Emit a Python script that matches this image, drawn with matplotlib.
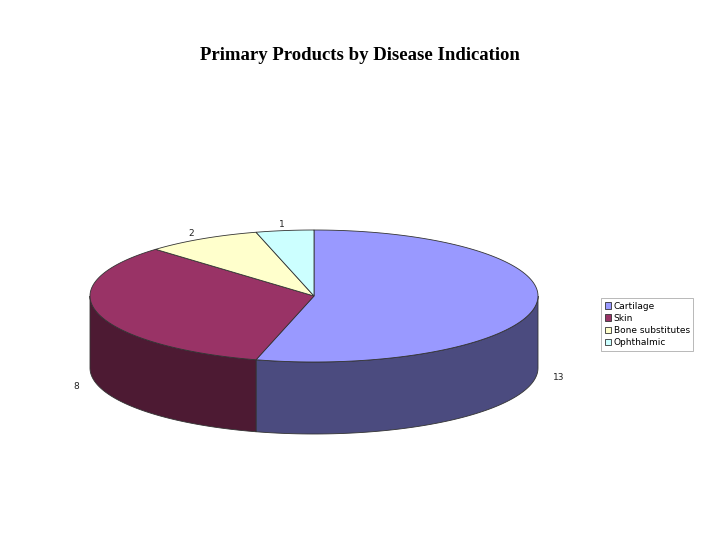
import numpy as np
import matplotlib
matplotlib.use("Agg")
import matplotlib.pyplot as plt
from matplotlib.patches import Polygon, Patch

categories = ["Cartilage", "Skin", "Bone substitutes", "Ophthalmic"]
values = [13, 8, 2, 1]
top_colors = ["#9999FF", "#993366", "#FFFFCC", "#CCFFFF"]
side_colors = ["#4B4B7F", "#4D1A33", "#7F7F66", "#667F7F"]

fig = plt.figure(figsize=(7.2, 5.4), dpi=100)
ax = fig.add_axes([0, 0, 1, 1])
ax.set_xlim(0, 720)
ax.set_ylim(540, 0)
ax.axis("off")

cx, cy, rx, ry, depth = 314, 296, 224, 66, 72
total = sum(values)

def pt(t, dy=0):
    r = np.radians(t)
    return cx + rx*np.cos(r), cy - ry*np.sin(r) + dy

# slice angle ranges (clockwise from 12 o'clock)
ranges = []
start = 90.0
for v in values:
    end = start - 360.0*v/total
    ranges.append((start, end))
    start = end

# side walls (front half: t in [-180, 0])
for (s, e), sc in zip(ranges, side_colors):
    lo, hi = max(e, -180), min(s, 0)
    # also handle angles expressed beyond -180
    if hi > lo:
        ts = np.linspace(hi, lo, 80)
        topp = [pt(t) for t in ts]
        botp = [pt(t, depth) for t in ts[::-1]]
        ax.add_patch(Polygon(topp + botp, closed=True, fc=sc, ec="#333333", lw=0.6))

# top surfaces
for (s, e), tc in zip(ranges, top_colors):
    ts = np.linspace(s, e, 120)
    pts = [(cx, cy)] + [pt(t) for t in ts]
    ax.add_patch(Polygon(pts, closed=True, fc=tc, ec="#333333", lw=0.6))

# labels
for (s, e), v in zip(ranges, values):
    m = (s + e) / 2
    r = np.radians(m)
    x = cx + rx*1.1*np.cos(r)
    y = cy - ry*1.1*np.sin(r)
    if np.sin(r) < 0:
        y += depth
    ax.text(x, y, str(v), fontsize=6.5, ha="center", va="center", color="#222222")

ax.text(360, 55, "Primary Products by Disease Indication", fontsize=13.5,
        fontweight="bold", family="Liberation Serif", ha="center", va="center")

handles = [Patch(fc=c, ec="#333333", lw=0.6) for c in top_colors]
leg = ax.legend(handles, categories, loc="upper left", bbox_to_anchor=(601/720, 1-298/540),
                bbox_transform=fig.transFigure, fontsize=6.5, frameon=True, fancybox=False,
                handlelength=0.7, handleheight=0.7, handletextpad=0.3, borderpad=0.4,
                labelspacing=0.35, borderaxespad=0)
leg.get_frame().set_edgecolor("#999999")
leg.get_frame().set_linewidth(0.6)

fig.savefig("out.png", dpi=100)
